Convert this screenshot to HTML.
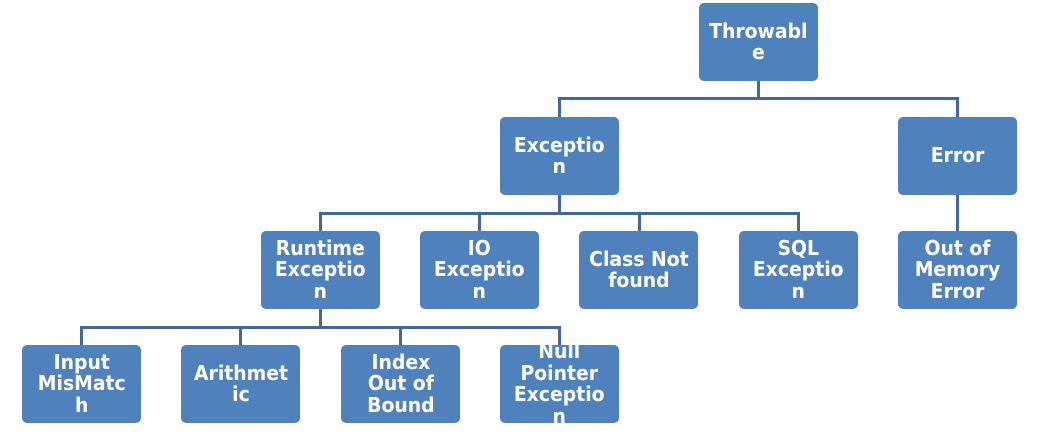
<!DOCTYPE html>
<html><head><meta charset="utf-8"><style>
body{margin:0;width:1041px;height:439px;background:#fff;position:relative;overflow:hidden;font-family:"DejaVu Sans","Liberation Sans",sans-serif}
.b{position:absolute;width:119px;height:78px;background:#4f81bd;border-radius:5px;color:#fff;font-weight:bold;font-size:20px;line-height:21.5px;text-align:center;display:flex;align-items:center;justify-content:center;white-space:nowrap}
.b>div{transform:scaleX(0.94)}
.l{position:absolute;background:#41699f}
</style></head><body>
<div class="l" style="left:757px;top:80px;width:3px;height:19px"></div>
<div class="l" style="left:558px;top:97px;width:401px;height:3px"></div>
<div class="l" style="left:558px;top:97px;width:3px;height:21px"></div>
<div class="l" style="left:956px;top:97px;width:3px;height:21px"></div>
<div class="l" style="left:558px;top:193px;width:3px;height:21px"></div>
<div class="l" style="left:319px;top:212px;width:481px;height:3px"></div>
<div class="l" style="left:319px;top:212px;width:3px;height:20px"></div>
<div class="l" style="left:478px;top:212px;width:3px;height:20px"></div>
<div class="l" style="left:638px;top:212px;width:3px;height:20px"></div>
<div class="l" style="left:797px;top:212px;width:3px;height:20px"></div>
<div class="l" style="left:956px;top:193px;width:3px;height:39px"></div>
<div class="l" style="left:319px;top:308px;width:3px;height:20px"></div>
<div class="l" style="left:80px;top:326px;width:481px;height:3px"></div>
<div class="l" style="left:80px;top:326px;width:3px;height:20px"></div>
<div class="l" style="left:239px;top:326px;width:3px;height:20px"></div>
<div class="l" style="left:399px;top:326px;width:3px;height:20px"></div>
<div class="l" style="left:558px;top:326px;width:3px;height:20px"></div>

<div class="b" style="left:699px;top:3px"><div>Throwabl<br>e</div></div>
<div class="b" style="left:500px;top:117px"><div>Exceptio<br>n</div></div>
<div class="b" style="left:898px;top:117px"><div>Error</div></div>
<div class="b" style="left:261px;top:231px"><div>Runtime<br>Exceptio<br>n</div></div>
<div class="b" style="left:420px;top:231px"><div>IO<br>Exceptio<br>n</div></div>
<div class="b" style="left:579px;top:231px"><div>Class Not<br>found</div></div>
<div class="b" style="left:739px;top:231px"><div>SQL<br>Exceptio<br>n</div></div>
<div class="b" style="left:898px;top:231px"><div>Out of<br>Memory<br>Error</div></div>
<div class="b" style="left:22px;top:345px"><div>Input<br>MisMatc<br>h</div></div>
<div class="b" style="left:181px;top:345px"><div>Arithmet<br>ic</div></div>
<div class="b" style="left:341px;top:345px"><div>Index<br>Out of<br>Bound</div></div>
<div class="b" style="left:500px;top:345px"><div>Null<br>Pointer<br>Exceptio<br>n</div></div>
</body></html>
